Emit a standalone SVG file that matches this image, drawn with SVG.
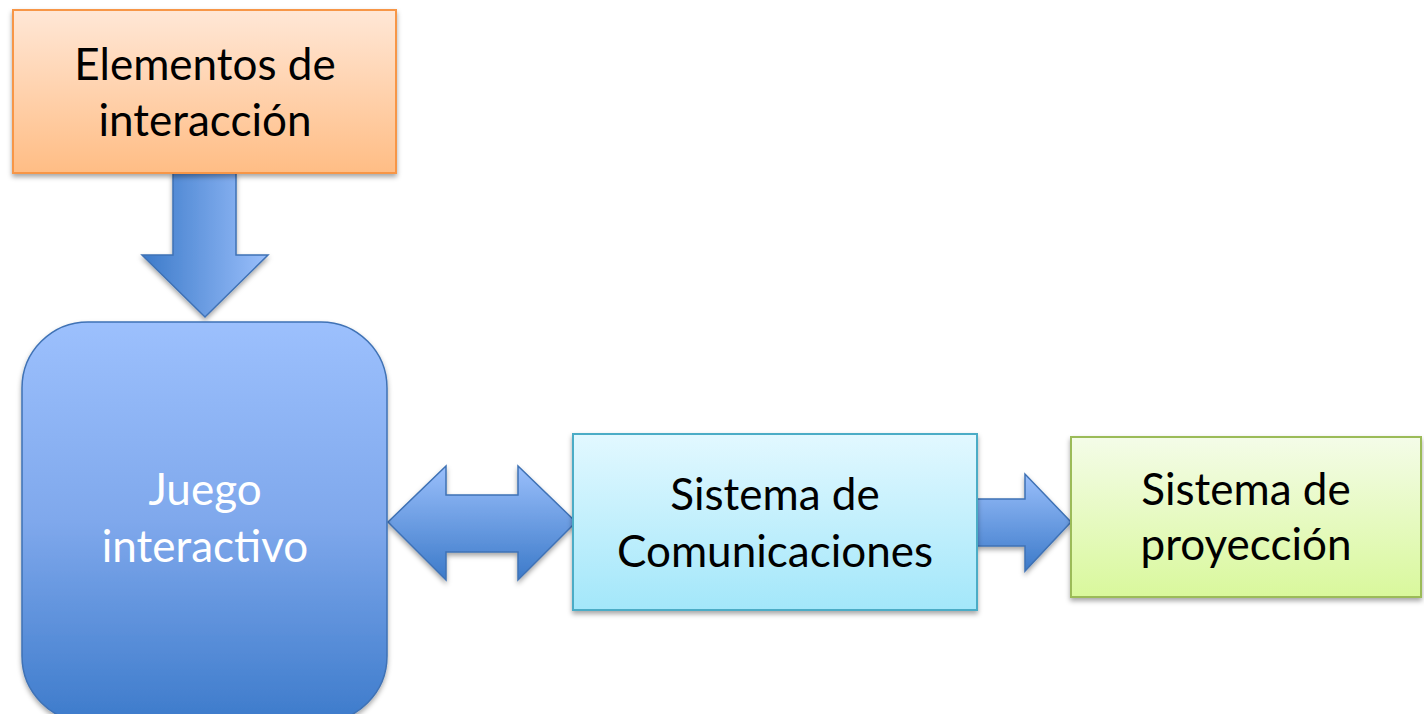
<svg xmlns="http://www.w3.org/2000/svg" width="1424" height="714" viewBox="0 0 1424 714">
<style>
.t{font-family:Lato,"Liberation Sans",sans-serif;font-size:44px;text-anchor:middle;fill:#000}
.w{fill:#fff}
</style>
<defs>
<filter id="sh" x="-10%" y="-10%" width="120%" height="130%"><feDropShadow dx="0" dy="3" stdDeviation="2.5" flood-color="#000" flood-opacity="0.35"/></filter>
<linearGradient id="gO" x1="0" y1="0" x2="0" y2="1"><stop offset="0" stop-color="#FFE7D6"/><stop offset="1" stop-color="#FFBD85"/></linearGradient>
<linearGradient id="gB" x1="0" y1="0" x2="0" y2="1"><stop offset="0" stop-color="#9CC0FD"/><stop offset="0.5" stop-color="#7FA8EC"/><stop offset="1" stop-color="#3D7BCB"/></linearGradient>
<linearGradient id="gC" x1="0" y1="0" x2="0" y2="1"><stop offset="0" stop-color="#E2F8FF"/><stop offset="1" stop-color="#A3E7FA"/></linearGradient>
<linearGradient id="gG" x1="0" y1="0" x2="0" y2="1"><stop offset="0" stop-color="#F4FCE8"/><stop offset="1" stop-color="#D9F89C"/></linearGradient>
<linearGradient id="gAh" x1="0" y1="0" x2="1" y2="0"><stop offset="0" stop-color="#3C7AC9"/><stop offset="1" stop-color="#9ABFFB"/></linearGradient>
<linearGradient id="gAv" x1="0" y1="0" x2="0" y2="1"><stop offset="0" stop-color="#9ABFFB"/><stop offset="1" stop-color="#3C7AC9"/></linearGradient>
</defs>
<g id="connectors" stroke="#3F72B5" stroke-width="1.5" stroke-linejoin="miter" filter="url(#sh)">
<path d="M173,173 H236 V255 H268 L205,317 L142,255 H173 Z" fill="url(#gAh)"/>
<path d="M388,522 L446,466 V495 H518 V466 L576,522 L518,580 V552 H446 V580 Z" fill="url(#gAv)"/>
<path d="M977,499 H1025 V474 L1071,522 L1025,571 V546 H977 Z" fill="url(#gAv)"/>
</g>
<g id="n-elementos">
<rect x="13" y="10" width="383" height="163" fill="url(#gO)" stroke="#F79646" stroke-width="2" filter="url(#sh)"/>
<text class="t" x="205" y="80">Elementos de</text>
<text class="t" x="205" y="136">interacción</text>
</g>
<g id="n-juego">
<rect x="22" y="322" width="365" height="400" rx="66" fill="url(#gB)" stroke="#3F72B5" stroke-width="1.5" filter="url(#sh)"/>
<text class="t w" x="205" y="505">Juego</text>
<text class="t w" x="205" y="562">interactivo</text>
</g>
<g id="n-comunicaciones">
<rect x="573" y="434" width="404" height="176" fill="url(#gC)" stroke="#4BACC6" stroke-width="2" filter="url(#sh)"/>
<text class="t" x="775" y="510">Sistema de</text>
<text class="t" x="775" y="567">Comunicaciones</text>
</g>
<g id="n-proyeccion">
<rect x="1071" y="437" width="350" height="160" fill="url(#gG)" stroke="#9BBB59" stroke-width="2" filter="url(#sh)"/>
<text class="t" x="1246" y="505">Sistema de</text>
<text class="t" x="1246" y="560">proyección</text>
</g>
</svg>
